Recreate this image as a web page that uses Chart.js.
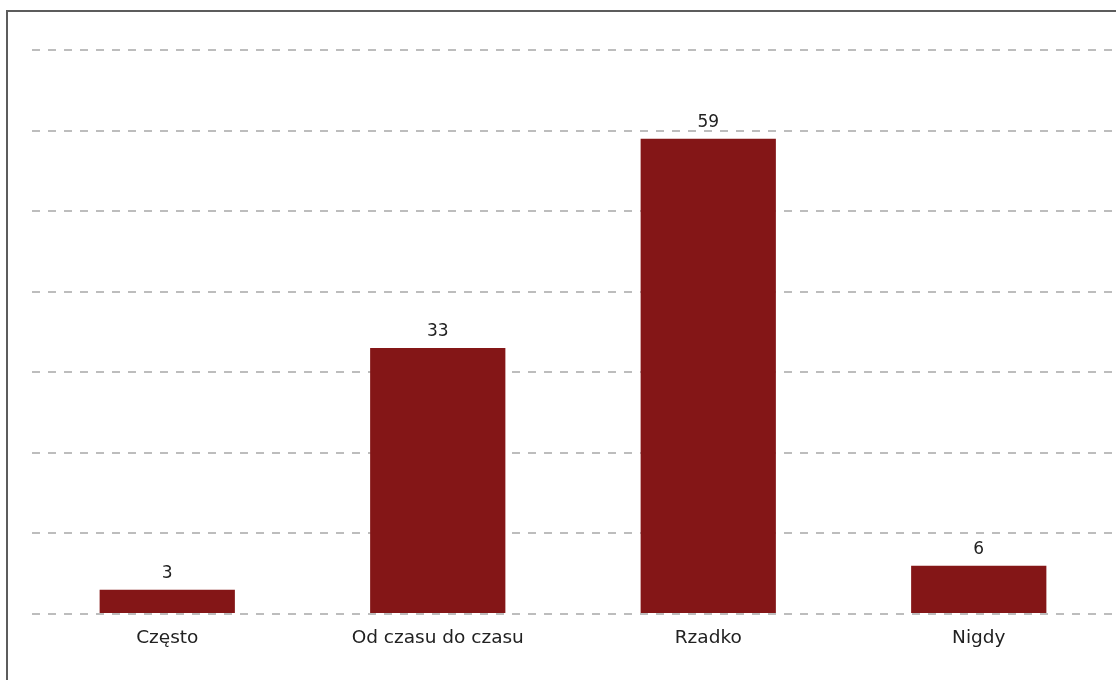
<!DOCTYPE html>
<html>
<head>
<meta charset="utf-8">
<script src="https://cdn.jsdelivr.net/npm/chart.js@4.4.1/dist/chart.umd.min.js"></script>
<style>
  html, body { margin: 0; padding: 0; background: #fff; overflow: hidden; }
  #frame { position: absolute; left: 6px; top: 10px; width: 1200px; height: 800px; border: 2px solid #5c5c5c; }
  #wrap { position: absolute; left: 0; top: 0; width: 1116px; height: 680px; }
</style>
</head>
<body>
<div id="frame"></div>
<div id="wrap"><canvas id="myChart"></canvas></div>
<script>
const categories = ['Często', 'Od czasu do czasu', 'Rzadko', 'Nigdy'];
const values = [3, 33, 59, 6];
const yMax = 70;
const yStep = 10;

// value above each bar
const valueLabels = {
  id: 'valueLabels',
  afterDatasetsDraw(chart) {
    const ctx = chart.ctx;
    const meta = chart.getDatasetMeta(0);
    ctx.save();
    ctx.font = '17px "DejaVu Sans", sans-serif';
    ctx.fillStyle = '#222';
    ctx.textAlign = 'center';
    ctx.textBaseline = 'alphabetic';
    meta.data.forEach((bar, i) => {
      ctx.fillText(values[i], bar.x, bar.y - 12);
    });
    ctx.restore();
  }
};

const myChart = document.getElementById('myChart');

let barChart = new Chart(myChart, {
  type: 'bar',
  data: {
    labels: categories,
    datasets: [{
      data: values,
      backgroundColor: '#841617',
      categoryPercentage: 1,
      barPercentage: 0.5
    }]
  },
  options: {
    responsive: true,
    maintainAspectRatio: false,
    animation: false,
    layout: { padding: { left: 32, top: 50, right: 2, bottom: 0 } },
    plugins: {
      legend: { display: false },
      tooltip: { enabled: false }
    },
    scales: {
      x: {
        grid: { display: false, drawTicks: false },
        border: { display: false },
        ticks: {
          padding: 13,
          color: '#222',
          font: { family: '"DejaVu Sans", sans-serif', size: 18.5 }
        },
        afterFit: s => { s.height = 66; }
      },
      y: {
        min: 0,
        max: yMax,
        grid: { color: '#bdbdbd', lineWidth: 2, drawTicks: false },
        border: { display: false, dash: [8, 8] },
        ticks: { display: false, stepSize: yStep },
        afterFit: s => { s.width = 0; }
      }
    }
  },
  plugins: [valueLabels]
});
</script>
</body>
</html>
